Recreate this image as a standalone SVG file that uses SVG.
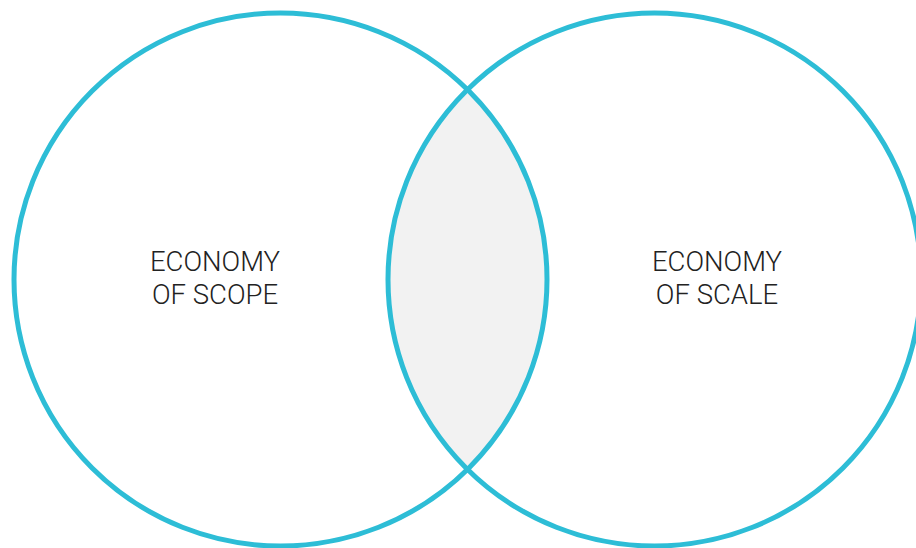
<svg xmlns="http://www.w3.org/2000/svg" width="916" height="548" viewBox="0 0 916 548">
  <style>
    .ring { fill: none; stroke: #2dbdd6; stroke-width: 5; }
    .label { font-family: Roboto, "Liberation Sans", sans-serif; font-weight: 300; font-size: 27.5px; fill: #222; text-anchor: middle; }
  </style>
  <defs>
    <clipPath id="clipLeft">
      <circle cx="280.5" cy="279.5" r="266.5"/>
    </clipPath>
  </defs>
  <rect width="916" height="548" fill="#ffffff"/>
  <!-- shared overlap -->
  <g id="overlap">
    <circle cx="654.5" cy="279.5" r="266.5" fill="#f2f2f2" clip-path="url(#clipLeft)"/>
  </g>
  <g id="scope">
    <circle class="ring" cx="280.5" cy="279.5" r="266.5"/>
    <text class="label" x="215" y="271">ECONOMY</text>
    <text class="label" x="215" y="304">OF SCOPE</text>
  </g>
  <g id="scale">
    <circle class="ring" cx="654.5" cy="279.5" r="266.5"/>
    <text class="label" x="717" y="271">ECONOMY</text>
    <text class="label" x="717" y="304">OF SCALE</text>
  </g>
</svg>
